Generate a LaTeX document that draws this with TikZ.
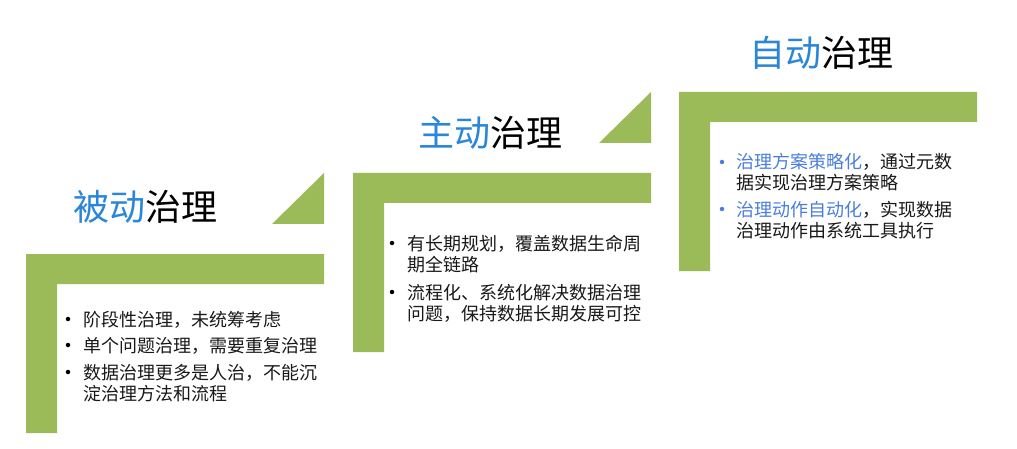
\documentclass[tikz,border=0pt]{standalone}
\usepackage{fontspec}
\setmainfont{Noto Sans CJK SC}

\definecolor{stepgreen}{RGB}{155,187,89}
\definecolor{titleblue}{RGB}{42,134,216}
\definecolor{itemblue}{RGB}{74,126,222}

\tikzset{
    stepbar/.style={fill=stepgreen, draw=none},
    steptitle/.style={anchor=base west, inner sep=0pt, font=\fontsize{36}{40}\selectfont},
    stepitem/.style={anchor=base west, inner sep=0pt, align=left, font=\fontsize{18}{21}\selectfont, text=black!90},
    itemdot/.style={circle, fill=#1, inner sep=0pt, minimum size=4.5pt},
}

\begin{document}
\begin{tikzpicture}[x=1pt, y=-1pt]
        \useasboundingbox[fill=white] (0, 0) rectangle (1017, 449);
        % steps
        \fill[stepbar] (26, 254) -- ++(298, 0) -- ++(0, 30) -- ++(-267, 0) -- ++(0, 149) -- ++(-31, 0) -- cycle;
        \fill[stepbar] (353, 173) -- ++(298, 0) -- ++(0, 30) -- ++(-267, 0) -- ++(0, 149) -- ++(-31, 0) -- cycle;
        \fill[stepbar] (679, 92) -- ++(298, 0) -- ++(0, 30) -- ++(-267, 0) -- ++(0, 149) -- ++(-31, 0) -- cycle;
        \fill[stepbar] (272, 224) -- (324, 224) -- (324, 173) -- cycle;
        \fill[stepbar] (599, 143) -- (651, 143) -- (651, 92) -- cycle;
        % titles
        \node[steptitle] (t1) at (73, 221) {{\color{titleblue}被动}治理};
        \node[steptitle] (t2) at (418, 147) {{\color{titleblue}主动}治理};
        \node[steptitle] (t3) at (749, 67) {{\color{titleblue}自动}治理};
        % items (base = last line)
        \node[stepitem] (i11) at (83, 326) {阶段性治理，未统筹考虑};
        \node[stepitem] (i12) at (83, 352) {单个问题治理，需要重复治理};
        \node[stepitem] (i13) at (83, 400) {数据治理更多是人治，不能沉\\淀治理方法和流程};
        \node[stepitem] (i21) at (407, 271) {有长期规划，覆盖数据生命周\\期全链路};
        \node[stepitem] (i22) at (407, 320) {流程化、系统化解决数据治理\\问题，保持数据长期发展可控};
        \node[stepitem] (i31) at (736, 190) {{\color{itemblue}治理方案策略化}，通过元数\\据实现治理方案策略};
        \node[stepitem] (i32) at (736, 237) {{\color{itemblue}治理动作自动化}，实现数据\\治理动作由系统工具执行};
        \foreach \n/\s in {i11/7, i12/7, i13/28, i21/28, i22/28}
            \node[itemdot=black] (d\n) at ([xshift=-15pt, yshift=\s pt]\n.base west) {};
        \foreach \n in {i31, i32}
            \node[itemdot=itemblue] (d\n) at ([xshift=-14pt, yshift=28pt]\n.base west) {};
    \end{tikzpicture}
\end{document}
